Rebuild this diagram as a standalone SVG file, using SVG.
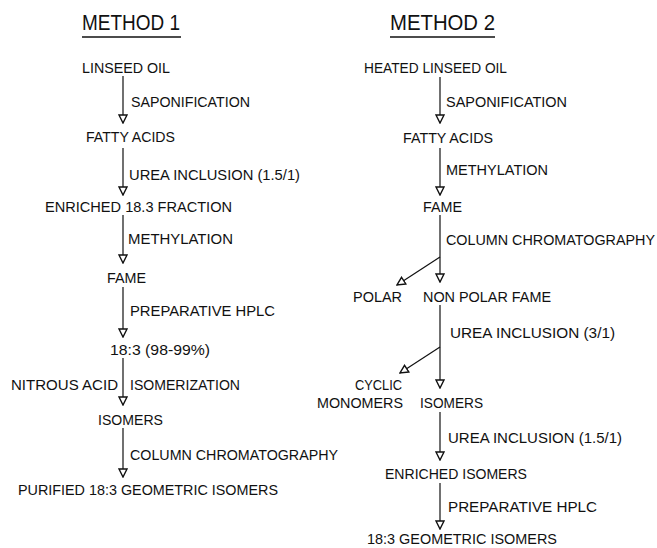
<svg xmlns="http://www.w3.org/2000/svg" width="657" height="548" viewBox="0 0 657 548">
<defs>
<style>
text{font-family:"Liberation Sans","DejaVu Sans",sans-serif;font-size:14.5px;fill:#111;}
.title{font-size:22px;}
.ul{stroke:#111;stroke-width:1.6;}
.c line{stroke:#111;stroke-width:1.2;marker-end:url(#ah);}
</style>
<marker id="ah" viewBox="0 0 10 10" refX="9" refY="5" markerWidth="10" markerHeight="10" markerUnits="userSpaceOnUse" orient="auto">
<path d="M1,1 L9,5 L1,9 z" fill="#fff" stroke="#111" stroke-width="1.4"/>
</marker>
</defs>
<rect width="657" height="548" fill="#fff"/>

<g id="titles">
<text class="title" x="82" y="30" textLength="98" lengthAdjust="spacingAndGlyphs">METHOD 1</text>
<line class="ul" x1="82" y1="37" x2="181" y2="37"/>
<text class="title" x="390" y="30" textLength="105" lengthAdjust="spacingAndGlyphs">METHOD 2</text>
<line class="ul" x1="390" y1="37" x2="495" y2="37"/>
</g>

<g class="c" id="connectors">
<line x1="123" y1="76" x2="123" y2="123"/>
<line x1="123" y1="148" x2="123" y2="195"/>
<line x1="123" y1="215" x2="123" y2="263"/>
<line x1="123" y1="287" x2="123" y2="337"/>
<line x1="123" y1="358" x2="123" y2="405"/>
<line x1="123" y1="428" x2="123" y2="477"/>
<line x1="440" y1="77" x2="440" y2="123"/>
<line x1="440" y1="148" x2="440" y2="195"/>
<line x1="440" y1="215" x2="440" y2="282"/>
<line x1="440" y1="305" x2="440" y2="388"/>
<line x1="440" y1="412" x2="440" y2="460"/>
<line x1="440" y1="483" x2="440" y2="529"/>
<line x1="440" y1="257" x2="397" y2="285"/>
<line x1="440" y1="347" x2="400" y2="373"/>
</g>

<g id="edge-labels">
<text x="131" y="107" textLength="119" lengthAdjust="spacingAndGlyphs">SAPONIFICATION</text>
<text x="129" y="180" textLength="171" lengthAdjust="spacingAndGlyphs">UREA INCLUSION (1.5/1)</text>
<text x="128" y="244" textLength="105" lengthAdjust="spacingAndGlyphs">METHYLATION</text>
<text x="130" y="316" textLength="145" lengthAdjust="spacingAndGlyphs">PREPARATIVE HPLC</text>
<text x="11" y="390" textLength="107" lengthAdjust="spacingAndGlyphs">NITROUS ACID</text>
<text x="130" y="390" textLength="110" lengthAdjust="spacingAndGlyphs">ISOMERIZATION</text>
<text x="130" y="460" textLength="208" lengthAdjust="spacingAndGlyphs">COLUMN CHROMATOGRAPHY</text>
<text x="446" y="107" textLength="121" lengthAdjust="spacingAndGlyphs">SAPONIFICATION</text>
<text x="446" y="175" textLength="102" lengthAdjust="spacingAndGlyphs">METHYLATION</text>
<text x="446" y="245" textLength="209" lengthAdjust="spacingAndGlyphs">COLUMN CHROMATOGRAPHY</text>
<text x="450" y="338" textLength="165" lengthAdjust="spacingAndGlyphs">UREA INCLUSION (3/1)</text>
<text x="448" y="443" textLength="174" lengthAdjust="spacingAndGlyphs">UREA INCLUSION (1.5/1)</text>
<text x="448" y="512" textLength="149" lengthAdjust="spacingAndGlyphs">PREPARATIVE HPLC</text>
</g>

<g id="m1-linseed-oil"><text x="82" y="73" textLength="88" lengthAdjust="spacingAndGlyphs">LINSEED OIL</text></g>
<g id="m1-fatty-acids"><text x="86" y="142" textLength="89" lengthAdjust="spacingAndGlyphs">FATTY ACIDS</text></g>
<g id="m1-enriched"><text x="45" y="212" textLength="187" lengthAdjust="spacingAndGlyphs">ENRICHED 18.3 FRACTION</text></g>
<g id="m1-fame"><text x="107" y="283" textLength="39" lengthAdjust="spacingAndGlyphs">FAME</text></g>
<g id="m1-183"><text x="110" y="355" textLength="100" lengthAdjust="spacingAndGlyphs">18:3 (98-99%)</text></g>
<g id="m1-isomers"><text x="98" y="425" textLength="65" lengthAdjust="spacingAndGlyphs">ISOMERS</text></g>
<g id="m1-purified"><text x="18" y="495" textLength="260" lengthAdjust="spacingAndGlyphs">PURIFIED 18:3 GEOMETRIC ISOMERS</text></g>

<g id="m2-heated-oil"><text x="364" y="73" textLength="143" lengthAdjust="spacingAndGlyphs">HEATED LINSEED OIL</text></g>
<g id="m2-fatty-acids"><text x="403" y="143" textLength="90" lengthAdjust="spacingAndGlyphs">FATTY ACIDS</text></g>
<g id="m2-fame"><text x="423" y="212" textLength="39" lengthAdjust="spacingAndGlyphs">FAME</text></g>
<g id="m2-polar"><text x="353" y="302" textLength="49" lengthAdjust="spacingAndGlyphs">POLAR</text></g>
<g id="m2-nonpolar"><text x="423" y="302" textLength="128" lengthAdjust="spacingAndGlyphs">NON POLAR FAME</text></g>
<g id="m2-cyclic"><text x="355" y="390" textLength="47" lengthAdjust="spacingAndGlyphs">CYCLIC</text><text x="317" y="408" textLength="86" lengthAdjust="spacingAndGlyphs">MONOMERS</text></g>
<g id="m2-isomers"><text x="420" y="408" textLength="63" lengthAdjust="spacingAndGlyphs">ISOMERS</text></g>
<g id="m2-enriched"><text x="385" y="479" textLength="142" lengthAdjust="spacingAndGlyphs">ENRICHED ISOMERS</text></g>
<g id="m2-geometric"><text x="367" y="544" textLength="190" lengthAdjust="spacingAndGlyphs">18:3 GEOMETRIC ISOMERS</text></g>
</svg>
